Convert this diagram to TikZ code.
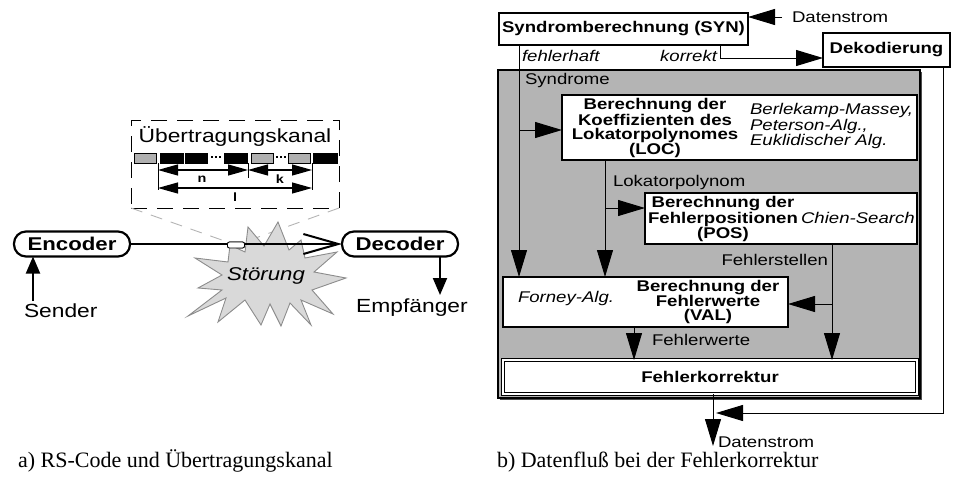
\documentclass[tikz,border=0pt]{standalone}
\usepackage{fontspec}
\setmainfont{Liberation Serif}
\newfontfamily\sfx[FakeStretch=1.2]{Liberation Sans}
\usetikzlibrary{arrows.meta}
\definecolor{panel}{HTML}{B4B4B4}
\definecolor{bitgray}{HTML}{B0B0B0}
\definecolor{burst}{HTML}{D9D9D9}
\definecolor{burstline}{HTML}{8C8C8C}
\definecolor{guide}{HTML}{B4B4B4}
\newcommand\fsz[2]{\fontsize{#1}{#2}\selectfont}
\begin{document}
\begin{tikzpicture}[x=1pt,y=-1pt,
  every node/.style={inner sep=0pt, outer sep=0pt},
  captxt/.style={font=\fsz{22}{26}, anchor=base west},
  pill/.style={draw, line width=2.2pt, rounded corners=12pt, minimum width=116pt,
    minimum height=25pt, font=\sfx\bfseries\fsz{18.5}{20}},
  big/.style={font=\sfx\fsz{19}{21}},
  dimlbl/.style={font=\sfx\bfseries\fsz{12}{14}},
  bitbox/.style={draw, line width=0.8pt},
  dimarr/.style={{Triangle[length=20pt,width=11pt]}-{Triangle[length=20pt,width=11pt]}, line width=1.2pt},
  lharr/.style={-{Triangle[length=17pt,width=14pt]}, line width=2pt},
  box/.style={draw, line width=1.3pt, fill=white},
  bt/.style={font=\sfx\bfseries\fsz{15.5}{14}, align=center},
  itx/.style={font=\sfx\itshape\fsz{15.5}{12.5}, align=left},
  rt/.style={font=\sfx\fsz{15.5}{14}},
  arr/.style={-{Triangle[length=27pt,width=16pt]}, line width=1pt}
]
\useasboundingbox (0,0) rectangle (953,479);

% ---------------- a) channel ----------------
\node[draw, dash pattern=on 16pt off 10pt, line width=1pt,
  minimum width=208pt, minimum height=88pt] (kanal) at (235,164) {};
\node[big, fill=white, inner sep=2pt] (kt) at (235,137) {Übertragungskanal};

% code word bits
\draw[bitbox, fill=bitgray] (134,153) rectangle (156,163);
\draw[bitbox, fill=black] (160,153) rectangle (183,163);
\draw[bitbox, fill=black] (185,153) rectangle (207,163);
\foreach \d in {211,215,219} \fill (\d,156) rectangle +(2,2);
\draw[bitbox, fill=black] (224,153) rectangle (247,163);
\draw[bitbox, fill=bitgray] (251,153) rectangle (273,163);
\foreach \d in {276,280,284} \fill (\d,156) rectangle +(2,2);
\draw[bitbox, fill=bitgray] (288,153) rectangle (310,163);
\draw[bitbox, fill=black] (313,153) rectangle (337,163);

% dimension lines
\draw[line width=1pt] (158,163) -- (158,190);
\draw[line width=1pt] (248,163) -- (248,178);
\draw[line width=1pt] (312,163) -- (312,190);
\draw[dimarr] (158,170) -- (248,170);
\draw[dimarr] (248,170) -- (312,170);
\draw[dimarr] (158,188) -- (312,188);
\node[dimlbl] (ln) at (202,179) {n};
\node[dimlbl] (lk) at (280,179) {k};
\node[dimlbl] (ll) at (235,197) {l};

% tap on the transmission line
\node[draw, fill=white, line width=0.8pt, rounded corners=2pt,
  minimum width=17pt, minimum height=6pt] (tap) at (236,245) {};
\draw[guide, dash pattern=on 12pt off 9pt, line width=0.9pt] (kanal.south west) -- (tap.north west);
\draw[guide, dash pattern=on 12pt off 9pt, line width=0.9pt] (kanal.south east) -- (tap.north east);

% interference burst
\draw[fill=burst, draw=burstline, line width=0.9pt]
  (248,227) -- (264,246) -- (278,222) -- (289,250) -- (301,240) -- (305,258)
  -- (337,252) -- (314,272) -- (346,278) -- (312,290) -- (333,314) -- (301,300)
  -- (311,325) -- (290,303) -- (281,326) -- (270,304) -- (261,325) -- (245,300)
  -- (218,322) -- (226,298) -- (188,316) -- (222,290) -- (198,288) -- (222,275)
  -- (195,258) -- (228,262) -- (230,245) -- (245,252) -- cycle;
\node[font=\sfx\itshape\fsz{18.5}{20}] (stoer) at (266,276) {Störung};

% encoder / decoder
\node[pill] (enc) at (72,244) {Encoder};
\node[pill] (dec) at (400,244) {Decoder};
\draw[line width=2pt, -{Straight Barb[length=35pt,width=20pt,line width=2pt]}] (enc.east) -- (dec.west);
\node[draw, fill=white, line width=0.8pt, rounded corners=2pt,
  minimum width=17pt, minimum height=6pt] (tapfront) at (tap) {};

\node[big, anchor=west] (snd) at (24,311) {Sender};
\coordinate (sndin) at (33,301);
\draw[lharr] (sndin) -- (sndin |- enc.south);
\node[big] (emp) at (412,308) {Empfänger};
\coordinate (xE) at (440,0);
\coordinate (empin) at (440,295);
\draw[lharr] (xE |- dec.south) -- (empin);

% ---------------- b) error correction data flow ----------------
\node[box, minimum width=249pt, minimum height=32pt, font=\sfx\bfseries\fsz{15.5}{13.5}]
  (syn) at (623.5,29) {Syndromberechnung (SYN)};
\node[rt, anchor=west] (dsin) at (792,17) {Datenstrom};
\draw[arr] ([xshift=-10pt]dsin.west) -- (syn.east |- dsin.west);

\node[box, minimum width=127pt, minimum height=34pt, font=\sfx\bfseries\fsz{15.5}{13.5}]
  (dek) at (886.5,50) {Dekodierung};

\node[itx, anchor=west] (fh) at (522,56) {fehlerhaft};
\node[itx, anchor=east] (kr) at (717,56) {korrekt};
\coordinate (xK) at (720,0);
\coordinate (kor) at (720,58);
\draw[arr] (xK |- syn.south) -- (kor) -- (kor -| dek.west);

% grey processing panel
\fill[black!70] (500,72) rectangle (922,400);
\node[draw, line width=1.4pt, fill=panel, minimum width=422pt, minimum height=328pt] (grp) at (709,234) {};
\node[rt, anchor=west] (synd) at (525,80) {Syndrome};

\node[box, minimum width=355pt, minimum height=65pt] (loc) at (739.5,127.5) {};
\node[bt] (loct) at (655,128) {Berechnung der\\Koeffizienten des\\Lokatorpolynomes\\(LOC)};
\node[itx, anchor=west] (loci) at (750,126) {Berlekamp-Massey,\\Peterson-Alg.,\\Euklidischer Alg.};

\node[box, minimum width=272pt, minimum height=51pt] (pos) at (781,218.5) {};
\node[bt] (post) at (723,219) {Berechnung der\\Fehlerpositionen\\(POS)};
\node[itx, anchor=west] (posi) at (801,218) {Chien-Search};

\node[box, minimum width=285pt, minimum height=50pt] (val) at (645.5,302) {};
\node[itx, anchor=west] (vali) at (518,298) {Forney-Alg.};
\node[bt] (valt) at (708,302) {Berechnung der\\Fehlerwerte\\(VAL)};

\node[draw, fill=white, line width=0.8pt, double=white, double distance=1.6pt,
  minimum width=414pt, minimum height=34pt, font=\sfx\bfseries\fsz{15.5}{13.5}]
  (fk) at (710,377) {Fehlerkorrektur};

% connectors inside the panel
\coordinate (xS) at (519,0);
\coordinate (locin) at (519,130);
\draw[arr] (xS |- syn.south) -- (xS |- val.north);
\draw[arr] (locin) -- (locin -| loc.west);

\coordinate (xL) at (605,0);
\coordinate (posin) at (605,208);
\node[rt, anchor=west] (lp) at (613,182) {Lokatorpolynom};
\draw[arr] (xL |- loc.south) -- (xL |- val.north);
\draw[arr] (posin) -- (posin -| pos.west);

\coordinate (xF) at (832,0);
\coordinate (valin) at (832,304);
\node[rt, anchor=east] (fs) at (828,260) {Fehlerstellen};
\draw[arr] (xF |- pos.south) -- (xF |- fk.north);
\draw[arr] (valin) -- (valin -| val.east);

\coordinate (xW) at (634,0);
\node[rt, anchor=west] (fw) at (652,340) {Fehlerwerte};
\draw[arr] (xW |- val.south) -- (xW |- fk.north);

% output data stream
\coordinate (xO) at (713,0);
\coordinate (dout) at (713,446);
\draw[arr] (xO |- fk.south) -- (dout);
\node[rt, anchor=west] (dsout) at (718,442) {Datenstrom};

\coordinate (xD) at (943,0);
\coordinate (ret) at (943,413);
\coordinate (rtip) at (716,413);
\draw[arr] (xD |- dek.south) -- (ret) -- (rtip);

% captions
\node[captxt] (capa) at (18,467) {a) RS-Code und Übertragungskanal};
\node[captxt] (capb) at (497,467) {b) Datenfluß bei der Fehlerkorrektur};
\end{tikzpicture}
\end{document}
